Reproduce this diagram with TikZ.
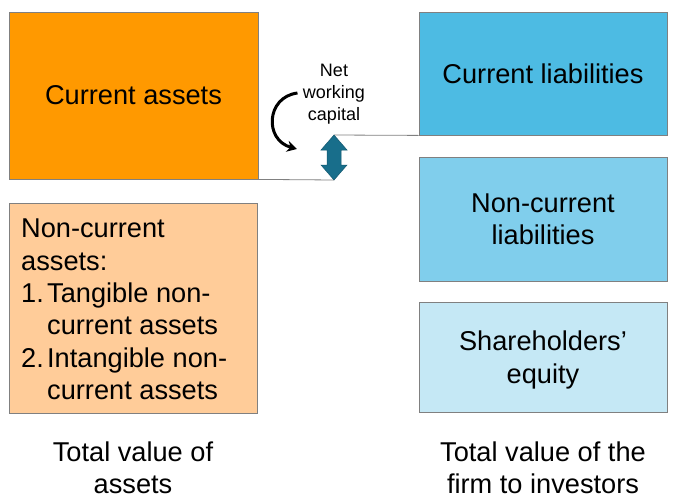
\documentclass[tikz,border=0pt]{standalone}
\usepackage{fontspec}
\setmainfont{Liberation Sans}
\usetikzlibrary{arrows.meta}
\definecolor{assetorange}{HTML}{FF9900}
\definecolor{assetlight}{HTML}{FFCC99}
\definecolor{liabblue}{HTML}{4DBBE3}
\definecolor{liablight}{HTML}{80CEEC}
\definecolor{equityblue}{HTML}{C5E8F5}
\definecolor{nwcteal}{HTML}{186E8B}
\newcommand{\boxfont}{\fontsize{27.2}{32.3}\selectfont}
\newcommand{\smallfont}{\fontsize{18}{21.8}\selectfont}
\newcommand{\itemlabel}[1]{\makebox[26pt][l]{#1}}

\begin{document}
\begin{tikzpicture}[x=1pt,y=-1pt,
	box/.style={draw=gray, line width=0.8pt, inner sep=0pt, font=\boxfont, align=center},
	link/.style={draw=gray, line width=0.8pt}]
	\useasboundingbox (0,0) rectangle (677,501);

	\node[box, fill=assetorange, minimum width=249pt, minimum height=167pt] (CA) at (133.5,95.5) {Current assets};
	\node[box, fill=assetlight, minimum width=248pt, minimum height=210pt] (NCA) at (133,308) {};
	\node[font=\boxfont, align=left, anchor=west, inner sep=0pt] (NCAtext) at (21,309.5)
		{Non-current\\assets:\\\itemlabel{1.}Tangible non-\\\hspace*{26pt}current assets\\\itemlabel{2.}Intangible non-\\\hspace*{26pt}current assets};

	\node[box, fill=liabblue, minimum width=248pt, minimum height=123pt] (CL) at (543,73.5) {Current liabilities};
	\node[box, fill=liablight, minimum width=248pt, minimum height=124pt] (NCL) at (543,219) {Non-current\\liabilities};
	\node[box, fill=equityblue, minimum width=248pt, minimum height=110pt] (SE) at (543,357) {};
	\node[font=\boxfont, align=center, yshift=-3pt] (SEtext) at (SE.center) {Shareholders'\\equity};

	\node[font=\boxfont, align=center] (TA) at (133,467.5) {Total value of\\assets};
	\node[font=\boxfont, align=center] (TF) at (543,467.5) {Total value of the\\firm to investors};

	\node[font=\smallfont, align=center] (NWC) at (334,94) {Net\\working\\capital};

	% double arrow for net working capital
	\coordinate (nwcT) at (334,135);
	\coordinate (nwcB) at (334,180);
	\draw[link] (CA.south east) -- (nwcB);
	\draw[link] (nwcT) -- (CL.south west);
	\fill[nwcteal, draw=nwcteal!80!black, line width=0.5pt]
		(nwcT) -- ++(13,15) -- ++(-6,0) -- ++(0,15) -- ++(6,0) -- (nwcB)
		-- ++(-13,-15) -- ++(6,0) -- ++(0,-15) -- ++(-6,0) -- cycle;

	\draw[line width=3pt, -{Stealth[length=10pt,width=11pt]}] (NWC.west |- 0,93) ++(-2,0)
		.. controls (266,97) and (264,140) .. (297,149);
\end{tikzpicture}
\end{document}
